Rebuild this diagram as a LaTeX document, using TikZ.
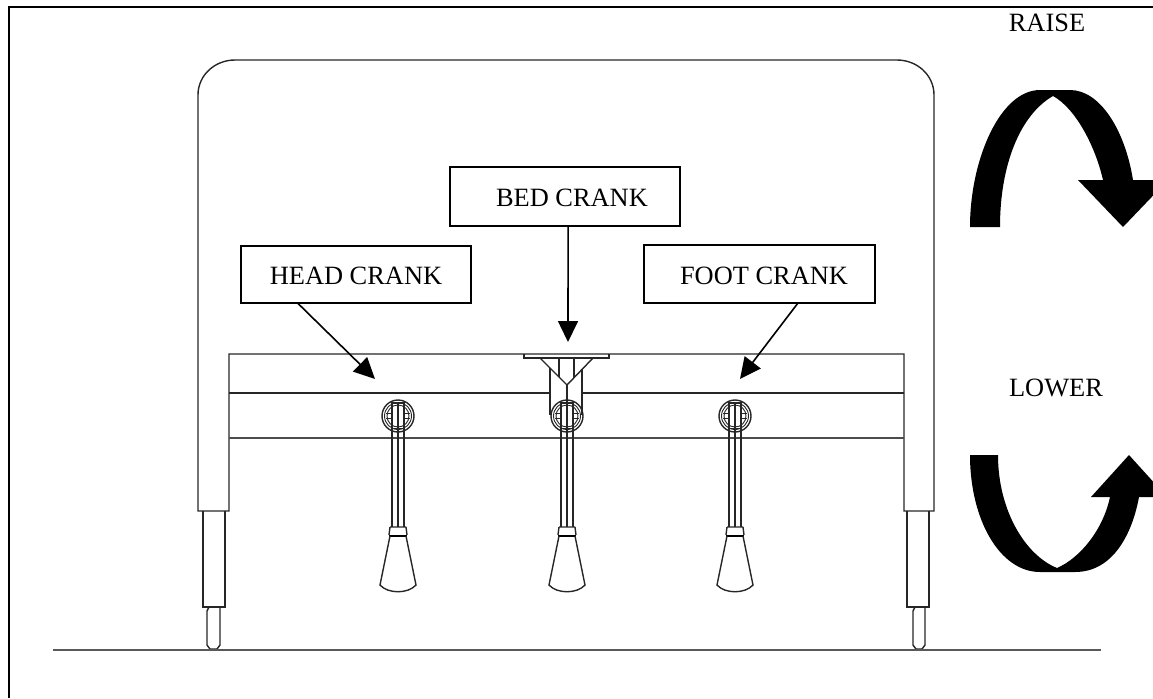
\documentclass[tikz,border=0pt]{standalone}
\usepackage{fontspec}
\setmainfont{Liberation Serif}
\usetikzlibrary{arrows.meta}
\tikzset{
  crankbox/.style={draw=black, line width=0.9pt, fill=white, inner sep=0pt, outer sep=0pt, text height=10.2pt, text depth=0pt, font=\fontsize{13.2}{16}\selectfont},
  sidelabel/.style={inner sep=0pt, font=\fontsize{13.2}{16}\selectfont},
  pointer/.style={line width=0.8pt, -{Triangle[length=10.5pt,width=10pt]}},
  bedline/.style={line width=0.7pt, black!85},
  thinline/.style={line width=0.45pt, black!85}
}

\begin{document}
\begin{tikzpicture}[x=0.5pt,y=-0.5pt]
  \useasboundingbox (0,0) rectangle (1153,698);
  \draw[line width=1pt] (9,698) -- (9,7) -- (1153,7);
  % headboard and legs
  \draw[bedline] (198,511) -- (198,95) .. controls (198,75) and (215,60) .. (235,60) -- (897,60)
     .. controls (917,60) and (934,75) .. (934,95) -- (934,511) -- (904,511) -- (904,354) -- (229,354) -- (229,511) -- cycle;
  \foreach \x/\y/\z in {203/207/220,907/913/925} {
    \draw[bedline] (\x,511) -- (\x,607) -- (\x+22,607) -- (\x+22,511);
    \draw[bedline] (\y+2,607) -- (\y,611) -- (\y,645) -- (\y+3,649) -- (\z-3,649) -- (\z,645) -- (\z,607);
  }
  \draw[line width=1pt,black!65] (53,650) -- (1101,650);
  \draw[bedline] (229,393) -- (550,393) (582,393) -- (904,393);
  \draw[line width=0.7pt,black!70] (229,438) -- (904,438);
  % bracket
  \draw[bedline] (524,354) -- (524,358) -- (609,358) -- (609,354);
  \draw[bedline] (559,358) -- (559,377) (574,358) -- (574,378);
  \draw[bedline] (540,358) -- (567,385) -- (593,358);
  \draw[bedline] (550,368) -- (550,415) (582,369) -- (582,415);
  \draw[bedline] (567,385) -- (567,403);
  % cranks
  \foreach \c in {398,567,735} {
   \begin{scope}[shift={(\c,0)}]
    \draw[bedline] (0,416) circle (16);
    \draw[thinline] (0,416) circle (13.5);
    \draw[thinline] (0,416) circle (11);
    \draw[thinline] (-12,413) -- (-6,413) (-12,418) -- (-6,418);
    \draw[thinline] (6,413) -- (12,413) (6,418) -- (12,418);
    \draw[bedline] (-6,527) -- (-6,403) -- (6,403) -- (6,527);
    \draw[bedline] (0,403) -- (0,527);
    \draw[thinline] (-6,428) -- (6,428);
    \draw[bedline] (-8,527) -- (8,527) (-8,527) -- (-9,535) (8,527) -- (9,535);
    \draw[line width=0.9pt] (-9,536) -- (9,536);
    \draw[bedline] (-8,536) -- (-18,585) .. controls (-10,594) and (10,594) .. (18,585) -- (8,536);
   \end{scope}
  }
  % labels
  \node[crankbox, minimum width=115pt, minimum height=28.5pt] (headbox) at (356,274.5) {HEAD CRANK};
  \node[crankbox, minimum width=115.5pt, minimum height=29pt] (footbox) at (759.5,274) {\hspace*{4.5pt}FOOT CRANK};
  \node[crankbox, minimum width=115pt, minimum height=29.5pt] (bedbox) at (565,196.5) {\hspace*{7pt}BED CRANK};
  \node[sidelabel] (raiselabel) at (1047,22.5) {RAISE};
  \node[sidelabel] (lowerlabel) at (1056,388) {LOWER};
  \coordinate (headtip) at (375,379);
  \coordinate (bedtip) at (568,342);
  \coordinate (foottip) at (740,379);
  \draw[pointer] (headbox.206) -- (headtip);
  \draw[pointer] (bedbox.-84.2) -- (bedtip);
  \draw[pointer] (footbox.-37.7) -- (foottip);
  % raise and lower arrows
  \begin{scope}
   \clip (0,0) rectangle (1153,698);
   \fill (970,227) -- (1000,227) .. controls (1000,165) and (1020,115) .. (1053,96)
     .. controls (1075,108) and (1095,145) .. (1103,180) -- (1078,180) -- (1123,227) -- (1168,180) -- (1133,180)
     .. controls (1125,130) and (1100,90) .. (1070,90) -- (1040,90) .. controls (1000,90) and (970,160) .. cycle;
   \fill (970,455) -- (998,455) .. controls (998,510) and (1025,555) .. (1057,568)
     .. controls (1080,558) and (1103,530) .. (1110,497) -- (1091,497) -- (1129,455) -- (1167,497) -- (1139,497)
     .. controls (1133,530) and (1115,572) .. (1075,572) -- (1040,572) .. controls (1000,572) and (970,520) .. cycle;
  \end{scope}
\end{tikzpicture}
\end{document}
